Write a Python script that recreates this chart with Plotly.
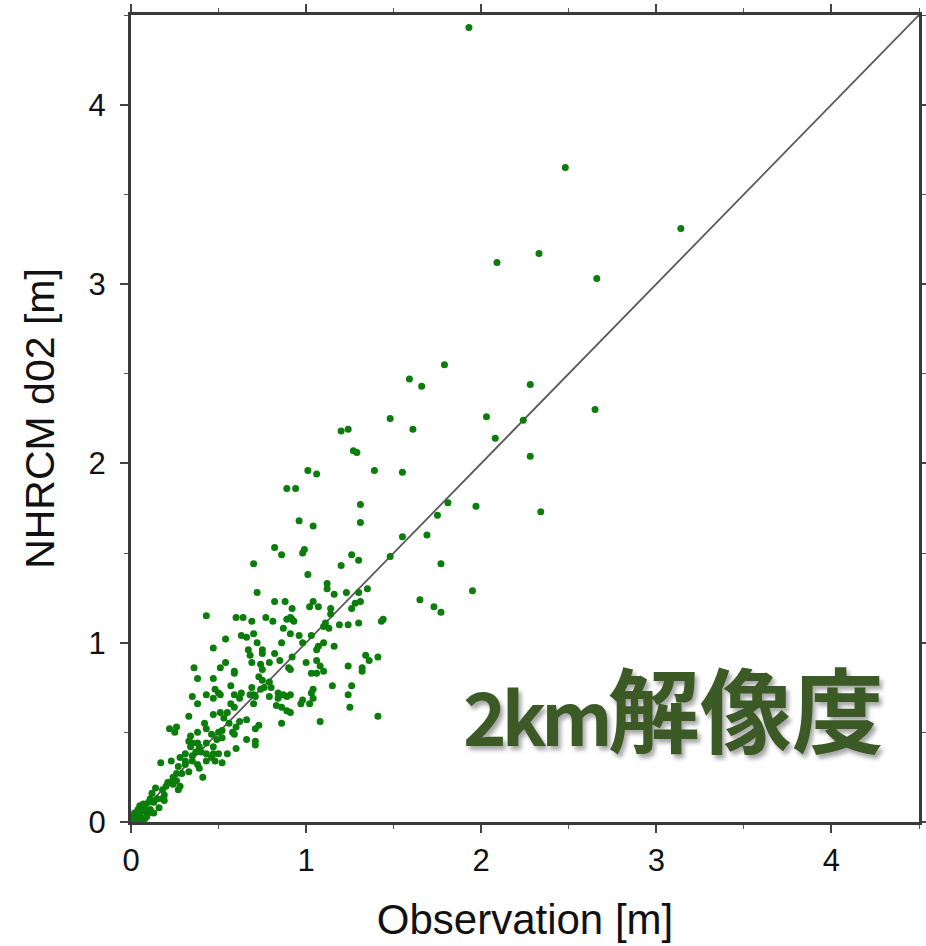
import plotly.graph_objects as go

# Observation [m] (x) and NHRCM d02 [m] (y)
obs = [
    1.93, 2.48, 3.14, 2.33, 2.09, 2.66, 1.79, 1.59, 1.66, 2.28,
    2.03, 2.24, 2.65, 1.61, 2.08, 2.28, 1.55, 1.81, 1.97, 1.75,
    2.34, 1.55, 1.69, 1.77, 1.95, 1.65, 1.73, 1.77, 1.48, 1.20,
    1.24, 1.27, 1.29, 1.01, 1.06, 1.39, 0.89, 0.94, 1.31, 1.31,
    0.96, 1.04, 0.82, 0.86, 0.99, 0.98, 1.26, 1.30, 1.48, 1.20,
    1.01, 1.12, 1.12, 1.16, 1.23, 1.30, 1.35, 1.04, 1.02, 1.07,
    1.14, 1.14, 1.26, 1.28, 1.31, 0.92, 0.92, 0.93, 1.11, 1.10,
    1.13, 1.19, 1.24, 1.30, 1.44, 1.43, 0.91, 0.96, 1.03, 0.98,
    1.10, 1.07, 1.06, 1.16, 0.92, 1.34, 1.36, 1.41, 1.00, 1.06,
    1.08, 1.10, 1.03, 1.06, 0.91, 1.24, 1.32, 1.32, 1.15, 1.26,
    1.24, 1.25, 1.04, 1.03, 1.04, 0.98, 0.97, 1.02, 1.08, 1.41,
    0.91, 0.91, 0.70, 0.72, 0.82, 0.88, 0.43, 0.60, 0.64, 0.69,
    0.77, 0.81, 0.89, 0.91, 0.87, 0.63, 0.66, 0.70, 0.54, 0.72,
    0.47, 0.67, 0.75, 0.75, 0.82, 0.86, 0.68, 0.69, 0.79, 0.85,
    0.90, 0.74, 0.75, 0.54, 0.51, 0.36, 0.38, 0.59, 0.59, 0.47,
    0.73, 0.75, 0.57, 0.69, 0.76, 0.74, 0.70, 0.71, 0.68, 0.79,
    0.80, 0.84, 0.79, 0.48, 0.50, 0.47, 0.51, 0.43, 0.35, 0.38,
    0.59, 0.63, 0.62, 0.57, 0.59, 0.55, 0.70, 0.84, 0.87, 0.89,
    0.83, 0.86, 0.89, 0.47, 0.51, 0.53, 0.33, 0.86, 0.73, 0.71,
    0.66, 0.71, 0.71, 0.60, 0.56, 0.62, 0.60, 0.58, 0.59, 0.42,
    0.43, 0.46, 0.50, 0.52, 0.52, 0.49, 0.38, 0.34, 0.33, 0.35,
    0.38, 0.39, 0.34, 0.22, 0.26, 0.25, 0.28, 0.31, 0.35, 0.43,
    0.47, 0.50, 0.55, 0.46, 0.66, 0.43, 0.47, 0.37, 0.40, 0.31,
    0.35, 0.17, 0.23, 0.27, 0.31, 0.38, 0.39, 0.41, 0.43, 0.48,
    0.52, 0.26, 0.29, 0.33, 0.24, 0.22, 0.26, 0.28, 0.27, 0.20,
    0.21, 0.18, 0.19, 0.12, 0.19, 0.15, 0.13, 0.10, 0.16, 0.08,
    0.05, 0.04, 0.07, 0.10, 0.13, 0.02, 0.01, 0.05, 0.09, 0.03,
    0.01, 0.06, 0.18, 0.11, 0.03, 0.08, 0.02, 0.05, 0.07, 0.11,
    0.14, 0.24,
]
model = [
    4.43, 3.65, 3.31, 3.17, 3.12, 3.03, 2.55, 2.47, 2.43, 2.44,
    2.26, 2.24, 2.30, 2.19, 2.14, 2.04, 1.95, 1.78, 1.76, 1.71,
    1.73, 1.59, 1.60, 1.44, 1.29, 1.24, 1.20, 1.17, 2.25, 2.18,
    2.19, 2.07, 2.06, 1.96, 1.94, 1.96, 1.86, 1.86, 1.77, 1.67,
    1.68, 1.65, 1.53, 1.49, 1.52, 1.50, 1.49, 1.46, 1.48, 1.43,
    1.38, 1.33, 1.30, 1.27, 1.28, 1.28, 1.30, 1.23, 1.20, 1.20,
    1.19, 1.16, 1.19, 1.22, 1.23, 1.19, 1.13, 1.12, 1.11, 1.09,
    1.08, 1.10, 1.10, 1.11, 1.13, 1.12, 1.05, 1.04, 1.04, 1.00,
    1.00, 0.98, 0.96, 0.98, 0.92, 0.93, 0.90, 0.92, 0.89, 0.90,
    0.87, 0.84, 0.83, 0.83, 0.85, 0.87, 0.86, 0.84, 0.76, 0.76,
    0.71, 0.64, 0.74, 0.72, 0.69, 0.68, 0.66, 0.66, 0.56, 0.59,
    0.71, 0.61, 1.44, 1.28, 1.23, 1.23, 1.15, 1.14, 1.14, 1.12,
    1.14, 1.12, 1.13, 1.14, 1.08, 1.04, 1.03, 1.05, 1.02, 1.00,
    0.97, 0.96, 0.96, 0.94, 0.94, 1.00, 0.93, 0.89, 0.89, 0.90,
    0.86, 0.88, 0.85, 0.89, 0.86, 0.86, 0.80, 0.84, 0.83, 0.80,
    0.81, 0.79, 0.76, 0.75, 0.75, 0.74, 0.71, 0.70, 0.71, 0.78,
    0.75, 0.72, 0.70, 0.74, 0.72, 0.69, 0.71, 0.71, 0.70, 0.66,
    0.71, 0.72, 0.69, 0.66, 0.64, 0.61, 0.66, 0.69, 0.71, 0.70,
    0.65, 0.64, 0.62, 0.60, 0.61, 0.58, 0.59, 0.55, 0.54, 0.52,
    0.46, 0.45, 0.43, 0.41, 0.55, 0.56, 0.53, 0.50, 0.49, 0.55,
    0.52, 0.49, 0.50, 0.51, 0.47, 0.46, 0.50, 0.48, 0.45, 0.44,
    0.44, 0.42, 0.42, 0.52, 0.53, 0.50, 0.36, 0.38, 0.37, 0.38,
    0.38, 0.38, 0.38, 0.36, 0.57, 0.44, 0.42, 0.39, 0.39, 0.34,
    0.34, 0.33, 0.34, 0.31, 0.32, 0.32, 0.30, 0.25, 0.34, 0.34,
    0.33, 0.27, 0.27, 0.28, 0.25, 0.22, 0.23, 0.20, 0.18, 0.20,
    0.22, 0.18, 0.15, 0.16, 0.12, 0.13, 0.11, 0.11, 0.08, 0.08,
    0.09, 0.07, 0.06, 0.05, 0.05, 0.05, 0.03, 0.03, 0.03, 0.02,
    0.01, 0.01, 0.13, 0.07, 0.01, 0.02, 0.04, 0.06, 0.10, 0.13,
    0.19, 0.21,
]

# 1:1 reference line
line_x = [0, 4.5]
line_y = [0, 4.5]

tick_vals = [0, 1, 2, 3, 4]
tick_text = ["0", "1", "2", "3", "4"]
axis_range = [0, 4.5]

x_title = "Observation [m]"
y_title = "NHRCM d02 [m]"
label_latin = "2km"
label_cjk = "解像度"

fig = go.Figure()
fig.add_trace(go.Scatter(
    x=line_x, y=line_y, mode="lines",
    line=dict(color="#5a5a5a", width=1.8),
    hoverinfo="skip", showlegend=False,
))
fig.add_trace(go.Scatter(
    x=obs, y=model, mode="markers",
    marker=dict(color="#0a7d0a", size=7, line=dict(width=0)),
    showlegend=False,
))

axis_common = dict(
    range=axis_range,
    automargin=False,
    tickmode="array",
    tickvals=tick_vals,
    ticktext=tick_text,
    ticks="outside",
    ticklen=8,
    tickwidth=1.5,
    tickcolor="#444",
    minor=dict(dtick=0.5, ticks="outside", ticklen=4, tickwidth=1.2, tickcolor="#555", tick0=0),
    showline=True,
    linecolor="#3a3a3a",
    linewidth=3,
    mirror="ticks",
    showgrid=False,
    zeroline=False,
    tickfont=dict(family="Liberation Sans, Arial, sans-serif", size=31, color="#111"),
)

fig.update_xaxes(
    **axis_common,
    ticklabelstandoff=1,
    title=dict(text=x_title, font=dict(family="Liberation Sans, Arial, sans-serif", size=42, color="#111"), standoff=28),
)
fig.update_yaxes(
    **axis_common,
    ticklabelstandoff=8,
    title=dict(text=y_title, font=dict(family="Liberation Sans, Arial, sans-serif", size=41, color="#111"), standoff=22),
)

label_html = (
    '<span style="font-size:74px;letter-spacing:-5px">' + label_latin + '</span>'
    + label_cjk
)
fig.add_annotation(
    x=4.31, y=0.65, xref="x", yref="y", xanchor="right", yanchor="middle",
    text=label_html, showarrow=False,
    font=dict(family="Noto Sans CJK JP, sans-serif", size=92,
              color="#3b5a25", weight="bold", shadow="3px 4px 4px rgba(0,0,0,0.35)"),
)

fig.update_layout(
    width=926, height=946,
    margin=dict(l=131, r=7, t=15, b=124),
    paper_bgcolor="white", plot_bgcolor="white",
)

fig.write_html(
    "out.html",
    config={"displayModeBar": False},
    post_script="document.body.style.margin='0';document.body.style.overflow='hidden';",
)
